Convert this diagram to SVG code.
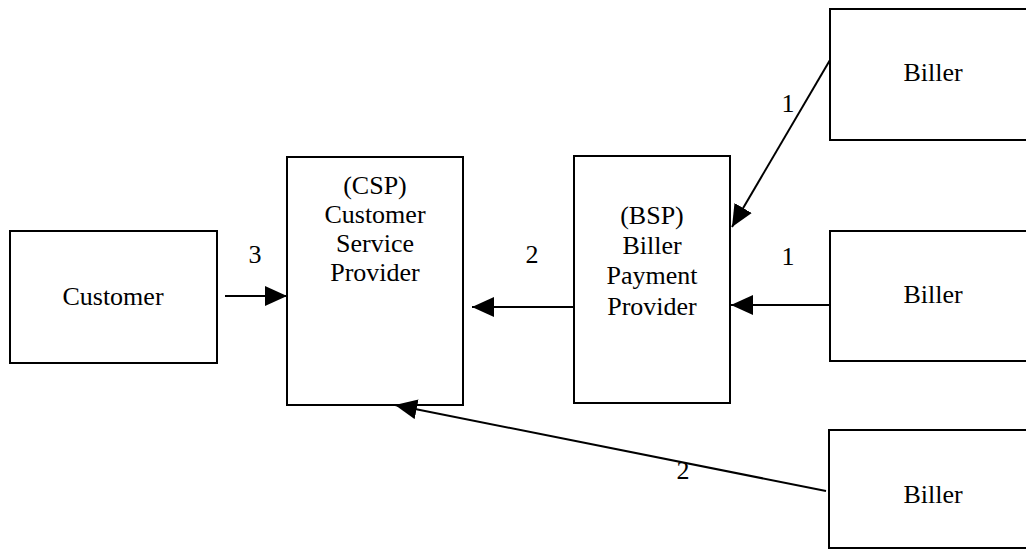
<svg xmlns="http://www.w3.org/2000/svg" width="1026" height="559" viewBox="0 0 1026 559">
<style>
.box{fill:#fff;stroke:#000;stroke-width:2}
.t{font-family:'Liberation Serif','Tinos','Times New Roman','Nimbus Roman','DejaVu Serif',serif;font-size:26px;fill:#000;text-anchor:middle}
.c{stroke:#000;stroke-width:2;fill:none;marker-end:url(#ah)}
</style>
<defs>
<marker id="ah" markerUnits="userSpaceOnUse" markerWidth="24" markerHeight="22" refX="22" refY="10" orient="auto">
<path d="M0,0 L22,10 L0,20 Z" fill="#000"/>
</marker>
</defs>
<rect width="1026" height="559" fill="#fff"/>
<g id="customer">
<rect class="box" x="10" y="231" width="207" height="132"/>
<text class="t" x="113" y="305">Customer</text>
</g>
<g id="csp">
<rect class="box" x="287" y="157" width="176" height="248"/>
<text class="t" x="375" y="194">(CSP)</text>
<text class="t" x="375" y="223">Customer</text>
<text class="t" x="375" y="252">Service</text>
<text class="t" x="375" y="281">Provider</text>
</g>
<g id="bsp">
<rect class="box" x="574" y="156" width="156" height="247"/>
<text class="t" x="652" y="224">(BSP)</text>
<text class="t" x="652" y="254">Biller</text>
<text class="t" x="652" y="284">Payment</text>
<text class="t" x="652" y="315">Provider</text>
</g>
<g id="biller1">
<rect class="box" x="830" y="9" width="200" height="131"/>
<text class="t" x="933" y="81">Biller</text>
</g>
<g id="biller2">
<rect class="box" x="830" y="231" width="200" height="130"/>
<text class="t" x="933" y="303">Biller</text>
</g>
<g id="biller3">
<rect class="box" x="829" y="430" width="201" height="118"/>
<text class="t" x="933" y="503">Biller</text>
</g>
<g id="connectors">
<line class="c" x1="225" y1="296" x2="287" y2="296"/>
<line class="c" x1="574" y1="307" x2="472" y2="307"/>
<line class="c" x1="830" y1="60" x2="732" y2="227"/>
<line class="c" x1="830" y1="305" x2="731" y2="305"/>
<line class="c" x1="826" y1="491" x2="395" y2="405"/>
<text class="t" x="255" y="263">3</text>
<text class="t" x="532" y="263">2</text>
<text class="t" x="788" y="112">1</text>
<text class="t" x="788" y="265">1</text>
<text class="t" x="683" y="479">2</text>
</g>
</svg>
